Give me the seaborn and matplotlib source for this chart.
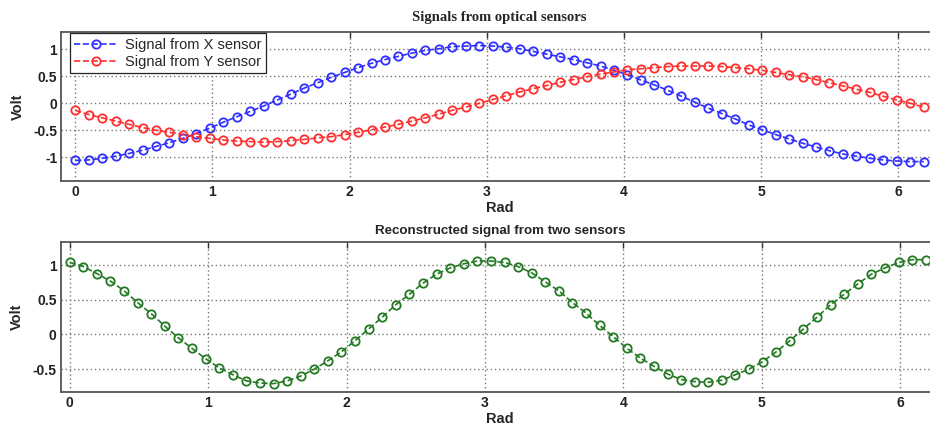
import numpy as np
import seaborn as sns
import matplotlib.pyplot as plt

# 64 samples over one turn (0 .. 2*pi, end point excluded)
rad = np.linspace(0, 2 * np.pi, 65)[:-1]

x_sensor = [-1.06, -1.05, -1.02, -0.98, -0.93, -0.87, -0.80, -0.73, -0.65, -0.56,
            -0.46, -0.35, -0.25, -0.15, -0.05, 0.06, 0.17, 0.28, 0.38, 0.48,
            0.57, 0.66, 0.74, 0.81, 0.87, 0.93, 0.98, 1.01, 1.05, 1.06,
            1.07, 1.06, 1.04, 1.01, 0.96, 0.91, 0.86, 0.81, 0.75, 0.69,
            0.61, 0.53, 0.43, 0.34, 0.24, 0.13, 0.02, -0.09, -0.19, -0.29,
            -0.40, -0.49, -0.58, -0.66, -0.74, -0.81, -0.88, -0.94, -0.98, -1.02,
            -1.05, -1.07, -1.08, -1.08]

y_sensor = [-0.13, -0.21, -0.27, -0.33, -0.39, -0.45, -0.50, -0.54, -0.58, -0.62,
            -0.65, -0.68, -0.70, -0.71, -0.72, -0.71, -0.69, -0.67, -0.64, -0.62,
            -0.58, -0.54, -0.49, -0.44, -0.39, -0.33, -0.27, -0.20, -0.13, -0.07,
            0.00, 0.07, 0.14, 0.21, 0.27, 0.33, 0.39, 0.44, 0.49, 0.54,
            0.58, 0.62, 0.64, 0.66, 0.68, 0.69, 0.69, 0.69, 0.68, 0.66,
            0.64, 0.61, 0.57, 0.53, 0.49, 0.44, 0.38, 0.32, 0.26, 0.20,
            0.13, 0.06, 0.00, -0.07]

reconstructed = [1.04, 0.98, 0.88, 0.77, 0.63, 0.46, 0.30, 0.12, -0.05, -0.20,
                 -0.35, -0.48, -0.58, -0.67, -0.70, -0.71, -0.67, -0.60, -0.50, -0.38,
                 -0.25, -0.09, 0.08, 0.25, 0.43, 0.58, 0.74, 0.87, 0.96, 1.02,
                 1.06, 1.06, 1.04, 0.98, 0.89, 0.76, 0.63, 0.46, 0.31, 0.13,
                 -0.03, -0.20, -0.34, -0.46, -0.57, -0.65, -0.68, -0.69, -0.66, -0.58,
                 -0.50, -0.39, -0.25, -0.09, 0.08, 0.25, 0.43, 0.58, 0.73, 0.87,
                 0.96, 1.04, 1.08, 1.08]

x_ticks = [0, 1, 2, 3, 4, 5, 6]
top_yticks = [-1, -0.5, 0, 0.5, 1]
top_ylabels = ['-1', '-0.5', '0', '0.5', '1']
bottom_yticks = [-0.5, 0, 0.5, 1]
bottom_ylabels = ['-0.5', '0', '0.5', '1']

sns.set_style("white")
plt.rcParams['font.family'] = ['Liberation Sans', 'DejaVu Sans']

fig = plt.figure(figsize=(9.3, 4.24), dpi=100)
ax1 = fig.add_axes([0.0661, 0.5731, 0.9417, 0.3514])
ax2 = fig.add_axes([0.0653, 0.0755, 0.9447, 0.3538])


def style_axes(ax, xlim, ylim, yticks, ylabels):
    ax.set_xlim(xlim)
    ax.set_ylim(ylim)
    ax.set_xticks(x_ticks)
    ax.set_xticklabels([str(t) for t in x_ticks])
    ax.set_yticks(yticks)
    ax.set_yticklabels(ylabels)
    ax.set_axisbelow(True)
    ax.grid(True, linestyle=(0, (1, 2)), color='#777777', linewidth=1.0)
    ax.tick_params(direction='in', top=True, right=True, length=4, width=1,
                   color='#333333', labelsize=10, pad=3)
    for lbl in ax.get_xticklabels() + ax.get_yticklabels():
        lbl.set_fontweight('bold')
        lbl.set_color('#222222')
    for s in ax.spines.values():
        s.set_color('#555555')
        s.set_linewidth(1.3)
    ax.set_xlabel('Rad', fontweight='bold', fontsize=10.5, labelpad=1)
    ax.set_ylabel('Volt', fontweight='bold', fontsize=10.5, labelpad=6)


line_kw = dict(marker='o', linestyle='--', linewidth=1.2, markersize=6,
               markerfacecolor='none', markeredgewidth=1.3, sort=False)

# top: the two sensor signals
sns.lineplot(x=rad, y=x_sensor, ax=ax1, color='#2f2fff', markeredgecolor='#2f2fff',
             label='Signal from X sensor', **line_kw)
sns.lineplot(x=rad, y=y_sensor, ax=ax1, color='#ff2f2f', markeredgecolor='#ff2f2f',
             label='Signal from Y sensor', **line_kw)
style_axes(ax1, (-0.1, 2 * np.pi), (-1.44, 1.32), top_yticks, top_ylabels)
ax1.set_title('Signals from optical sensors', fontfamily='Liberation Serif',
              fontweight='bold', fontsize=10.5, pad=8)
leg = ax1.legend(loc='upper left', bbox_to_anchor=(0.008, 1.0), fontsize=10.5,
                 frameon=True, fancybox=False, framealpha=1, edgecolor='#222222',
                 handlelength=3, borderpad=0.3, labelspacing=0.2,
                 handletextpad=0.5, borderaxespad=0.1)
leg.get_frame().set_linewidth(0.9)

# bottom: reconstructed signal
sns.lineplot(x=rad, y=reconstructed, ax=ax2, color='#237a23',
             markeredgecolor='#237a23', legend=False, **line_kw)
style_axes(ax2, (-0.065, 2 * np.pi), (-0.83, 1.335), bottom_yticks, bottom_ylabels)
ax2.set_title('Reconstructed signal from two sensors', fontweight='bold',
              fontsize=9.6, pad=6)

fig.savefig('out.png', dpi=100)
